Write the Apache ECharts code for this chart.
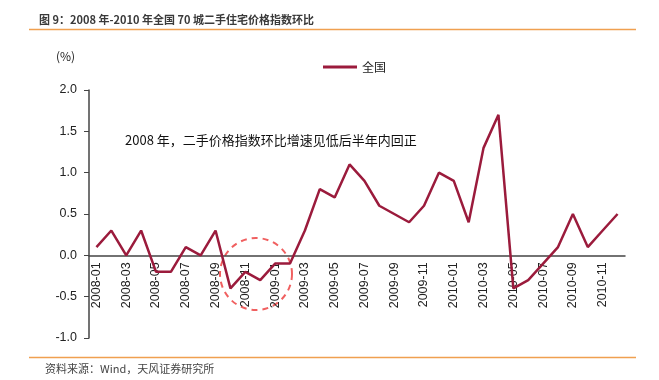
<!DOCTYPE html>
<html><head><meta charset="utf-8">
<script src="https://cdn.jsdelivr.net/npm/echarts@6/dist/echarts.min.js"></script>
<style>html,body{margin:0;padding:0;background:#fff}#c{width:659px;height:380px}</style>
</head><body><div id="c"></div>
<script>
const categories = [
 '2008-01','2008-02','2008-03','2008-04','2008-05','2008-06','2008-07','2008-08','2008-09','2008-10','2008-11','2008-12',
 '2009-01','2009-02','2009-03','2009-04','2009-05','2009-06','2009-07','2009-08','2009-09','2009-10','2009-11','2009-12',
 '2010-01','2010-02','2010-03','2010-04','2010-05','2010-06','2010-07','2010-08','2010-09','2010-10','2010-11','2010-12'];
const nationalValues = [0.1,0.3,0.0,0.3,-0.2,-0.2,0.1,0.0,0.3,-0.4,-0.2,-0.3,
 -0.1,-0.1,0.3,0.8,0.7,1.1,0.9,0.6,0.5,0.4,0.6,1.0,
 0.9,0.4,1.3,1.7,-0.4,-0.3,-0.1,0.1,0.5,0.1,0.3,0.5];
const seriesName = '全国';
const titleText = '图 9：2008 年-2010 年全国 70 城二手住宅价格指数环比';
const sourceText = '资料来源：Wind，天风证券研究所';
const noteText = '2008 年，二手价格指数环比增速见低后半年内回正';
const unitText = '(%)';

const yMin = -1, yMax = 2;
const gridTop = 90, gridBottom = 42, H = 380;
const plotH = H - gridTop - gridBottom;
const zeroOffset = -plotH * (0 - yMin) / (yMax - yMin);

const chart = echarts.init(document.getElementById('c'), null, {renderer:'canvas'});
const font = '"Noto Sans CJK SC","Noto Sans",sans-serif';
chart.setOption({
  animation:false,
  textStyle:{fontFamily:font},
  title:{text:titleText,left:34,top:9,textStyle:{fontSize:11,fontWeight:'bold',color:'#3a3a3a',fontFamily:font}},
  legend:{data:[seriesName],top:56,left:318,itemWidth:34,itemHeight:3,icon:'rect',
    textStyle:{fontSize:12,color:'#222',fontFamily:font}},
  grid:{left:89,right:34,top:gridTop,bottom:gridBottom,containLabel:false,outerBoundsMode:'none'},
  xAxis:{type:'category',data:categories,boundaryGap:true,position:'bottom',offset:zeroOffset,
    axisLine:{onZero:false,lineStyle:{color:'#444',width:1.5}},
    axisTick:{alignWithLabel:true,interval:1,length:4,lineStyle:{color:'#444'}},
    axisLabel:{interval:1,rotate:90,fontSize:12.5,color:'#222',margin:7,fontFamily:'"Liberation Sans",Arial,sans-serif'}},
  yAxis:{type:'value',min:yMin,max:yMax,interval:0.5,
    axisLine:{show:true,lineStyle:{color:'#444',width:1.5}},
    axisTick:{show:true,length:5,lineStyle:{color:'#444'}},
    splitLine:{show:false},
    axisLabel:{fontSize:12.5,color:'#222',margin:12,formatter:v=>v.toFixed(1),fontFamily:'"Liberation Sans",Arial,sans-serif'}},
  series:[{name:seriesName,type:'line',data:nationalValues,symbol:'none',
    lineStyle:{color:'#9b1b3c',width:2.5},itemStyle:{color:'#9b1b3c'}}],
  graphic:[
    {type:'line',shape:{x1:29,y1:29.5,x2:636,y2:29.5},style:{stroke:'#f0a050',lineWidth:1.5}},
    {type:'line',shape:{x1:29,y1:357.5,x2:636,y2:357.5},style:{stroke:'#f0a050',lineWidth:1.5}},
    {type:'text',left:45,top:363,style:{text:sourceText,fontSize:11,fill:'#444',fontFamily:font}},
    {type:'text',left:56,top:50,style:{text:unitText,fontSize:12,fill:'#222',fontFamily:font}},
    {type:'text',left:125,top:134,style:{text:noteText,fontSize:13,fill:'#111',fontFamily:font}},
    {type:'circle',shape:{cx:256,cy:274,r:36},style:{fill:'none',stroke:'#f06060',lineWidth:2,lineDash:[6,5]}}
  ]
});
</script></body></html>
